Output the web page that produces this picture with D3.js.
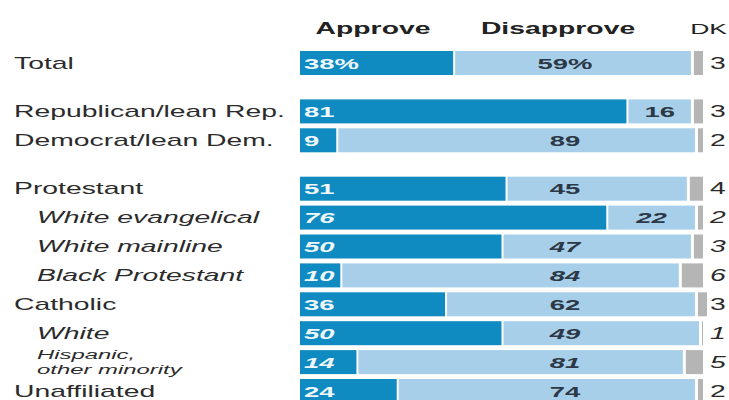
<!DOCTYPE html>
<html>
<head>
<meta charset="utf-8">
<script src="https://cdn.jsdelivr.net/npm/d3@7"></script>
<style>
  html, body { margin: 0; padding: 0; background: #fff; }
  svg { display: block; }
  text { font-family: "Liberation Sans", Arial, sans-serif; }
</style>
</head>
<body>
<svg id="chart" width="729" height="400"></svg>
<script>
// Approval by party and religious group (percent)
const categories = [
  "Total", "Republican/lean Rep.", "Democrat/lean Dem.",
  "Protestant", "White evangelical", "White mainline", "Black Protestant",
  "Catholic", "White", "Hispanic,\nother minority", "Unaffiliated"
];
const approve    = [38, 81,  9, 51, 76, 50, 10, 36, 50, 14, 24];
const disapprove = [59, 16, 89, 45, 22, 47, 84, 62, 49, 81, 74];
const dk         = [ 3,  3,  2,  4,  2,  3,  6,  3,  1,  5,  2];
// subgroups are indented and set in italics
const subgroup   = [false, false, false, false, true, true, true, false, true, true, false];
// blocks separated by extra space
const section    = [0, 1, 1, 2, 2, 2, 2, 2, 2, 2, 2];
const columns    = ["Approve", "Disapprove", "DK"];

const W = 729, H = 400;
const SX = 1.77;               // horizontal stretch of the lettering
const barH = 24;
const rowPitch = 28.9;
const sectionGap = 19.5;

const colors = {
  approve: "#108bc1",
  disapprove: "#a8cfe9",
  dk: "#b5b5b5",
  text: "#2b2b2b",
  dtext: "#2c3846"
};

const rows = categories.map((c, i) => ({
  name: c, a: approve[i], d: disapprove[i], k: dk[i],
  sub: subgroup[i], slot: i + section[i] * sectionGap / rowPitch, i
}));

const x = d3.scaleLinear().domain([0, 100]).range([300, 703]);
const y = d3.scaleLinear().domain([0, 1]).range([51, 51 + rowPitch]);

const svg = d3.select("#chart");

function place(sel, px, py) {
  return sel.attr("transform", `translate(${px},${py}) scale(${SX},1)`);
}

// column headers
const hdr = svg.append("g").attr("class", "headers");
place(hdr.append("text").text(columns[0]), 373, 34)
  .attr("text-anchor", "middle").attr("font-weight", "bold")
  .attr("font-size", 16).attr("fill", "#222");
place(hdr.append("text").text(columns[1]), 558, 34)
  .attr("text-anchor", "middle").attr("font-weight", "bold")
  .attr("font-size", 16).attr("fill", "#222");
place(hdr.append("text").text(columns[2]), 727, 34)
  .attr("text-anchor", "end").attr("font-size", 15).attr("fill", "#222");

const row = svg.selectAll("g.row").data(rows).join("g").attr("class", "row");

// stacked segments
row.append("rect")
  .attr("x", x(0))
  .attr("y", d => y(d.slot))
  .attr("width", d => x(d.a) - x(0))
  .attr("height", barH)
  .attr("fill", colors.approve);

row.append("rect")
  .attr("x", d => x(d.a) + 2)
  .attr("y", d => y(d.slot))
  .attr("width", d => x(d.a + d.d) - x(d.a) - 2)
  .attr("height", barH)
  .attr("fill", colors.disapprove);

row.append("rect")
  .attr("x", d => x(d.a + d.d) + 3)
  .attr("y", d => y(d.slot))
  .attr("width", d => Math.max(0, x(d.a + d.d + d.k) - x(d.a + d.d) - 3))
  .attr("height", barH)
  .attr("fill", colors.dk);

// row labels
row.each(function(d) {
  const g = d3.select(this);
  const lines = d.name.split("\n");
  const cy = y(d.slot) + barH / 2;
  const lx = d.sub ? 37 : 14;
  if (lines.length === 1) {
    place(g.append("text").text(lines[0]), lx, cy + 5.5)
      .attr("font-size", 16)
      .attr("font-style", d.sub ? "italic" : "normal")
      .attr("fill", colors.text);
  } else {
    lines.forEach((ln, j) => {
      place(g.append("text").text(ln), lx, cy - 3.5 + j * 15.5)
        .attr("font-size", 13.5)
        .attr("font-style", "italic")
        .attr("fill", colors.text);
    });
  }
});

const pct = d => d.i === 0 ? "%" : "";

// approve values
row.each(function(d) {
  const cy = y(d.slot) + barH / 2;
  place(d3.select(this).append("text").text(d.a + pct(d)), 304, cy + 5.5)
    .attr("font-size", 15.5).attr("font-weight", "bold")
    .attr("font-style", d.sub ? "italic" : "normal")
    .attr("fill", "#eef7fc");
});

// disapprove values
row.each(function(d) {
  const cy = y(d.slot) + barH / 2;
  const left = x(d.a) + 2, right = x(d.a + d.d);
  const cx = left > 530 ? (left + right) / 2 : 565;
  place(d3.select(this).append("text").text(d.d + pct(d)), cx, cy + 5.5)
    .attr("text-anchor", "middle")
    .attr("font-size", 15.5).attr("font-weight", "bold")
    .attr("font-style", d.sub ? "italic" : "normal")
    .attr("fill", colors.dtext);
});

// don't-know values
row.each(function(d) {
  const cy = y(d.slot) + barH / 2;
  place(d3.select(this).append("text").text(d.k), 710, cy + 5.5)
    .attr("font-size", 16)
    .attr("font-style", d.sub ? "italic" : "normal")
    .attr("fill", colors.text);
});
</script>
</body>
</html>
